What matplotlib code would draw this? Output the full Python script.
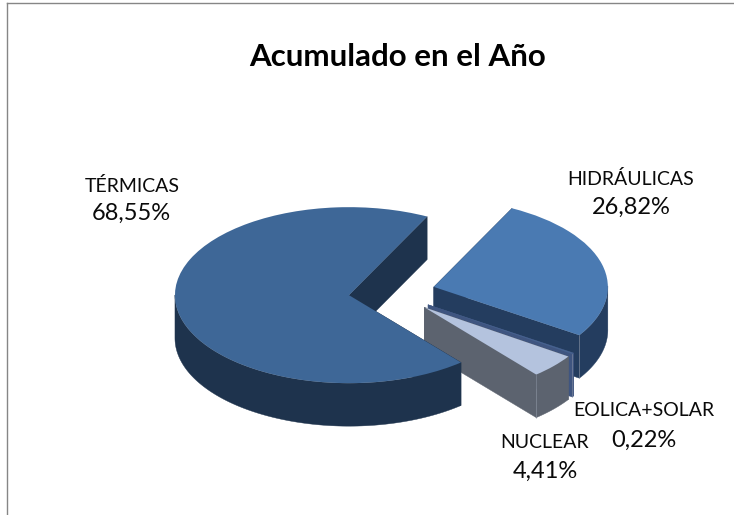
import numpy as np
import matplotlib
matplotlib.use("Agg")
import matplotlib.pyplot as plt
from matplotlib.lines import Line2D

categories = ["TÉRMICAS", "NUCLEAR", "EOLICA+SOLAR", "HIDRÁULICAS"]
values = [68.55, 4.41, 0.22, 26.82]
top_colors = ["#3E6797", "#B4C3DE", "#46628F", "#4A7AB2"]
side_colors = ["#1E334D", "#5C636F", "#3F5580", "#243D5F"]
draw_rank = [40, 30, 20, 10]
name_pos = [(132, 186), (545, 442), (644, 410), (631, 179)]
value_pos = [(131, 213), (545, 471), (644, 440), (631, 207)]

W, H = 734, 515
RX, RY = 174.0, 88.0
CX, CY = 392.0, 292.6
DEPTH = 43.0 / RY
START = 63.3
EXPLODE = 0.249

plt.rcParams["font.family"] = ["Lato", "DejaVu Sans"]
fig = plt.figure(figsize=(W / 100, H / 100), dpi=100, facecolor="white")
ax = fig.add_axes([0, 0, 1, 1])

wedges, _ = ax.pie(values, explode=[EXPLODE] * len(values), startangle=START,
                   colors=top_colors, radius=1.0, normalize=True,
                   wedgeprops=dict(linewidth=0))
ax.set_aspect("auto")
ax.set_xlim(-CX / RX, (W - CX) / RX)
ax.set_ylim((CY - H) / RY, CY / RY)
ax.axis("off")

for w, side, rank in zip(wedges, side_colors, draw_rank):
    w.set_zorder(rank + 2)
    cx, cy = w.center
    t = np.radians(np.linspace(w.theta1, w.theta2, 200))
    xs, ys = cx + np.cos(t), cy + np.sin(t)
    # outer rim, only the part facing the viewer
    front = np.sin(t) < 0.02
    if front.any():
        fx, fy = xs[front], ys[front]
        ax.fill(np.r_[fx, fx[::-1]], np.r_[fy, fy[::-1] - DEPTH],
                color=side, lw=0.3, zorder=rank)
    # the two cut faces
    for i in (0, -1):
        ax.fill([cx, xs[i], xs[i], cx], [cy, ys[i], ys[i] - DEPTH, cy - DEPTH],
                facecolor=side, edgecolor=side, lw=0.3, zorder=rank + 1)
    # thin lighter corner line where a front cut face meets the rim
    if np.sin(t[0]) < 0:
        ax.plot([xs[0], xs[0]], [ys[0], ys[0] - DEPTH], color="#8F98A8", lw=0.5,
                alpha=0.7, zorder=rank + 1.5)

for name, v, (nx, ny), (vx, vy) in zip(categories, values, name_pos, value_pos):
    ax.text(nx / W, 1 - ny / H, name, transform=ax.transAxes, ha="center",
            va="center", fontsize=14, color="#0A0A0A", zorder=60)
    ax.text(vx / W, 1 - vy / H, f"{v:.2f}%".replace(".", ","), transform=ax.transAxes,
            ha="center", va="center", fontsize=17, color="#0A0A0A", zorder=60)

ax.text(398 / W, 1 - 57 / H, "Acumulado en el Año", transform=ax.transAxes,
        ha="center", va="center", fontsize=22.5, fontweight="bold", color="black")

frame = "#868686"
fig.add_artist(Line2D([7 / W, 7 / W], [0, 1 - 2.5 / H], color=frame, lw=1))
fig.add_artist(Line2D([7 / W, 1], [1 - 2.5 / H, 1 - 2.5 / H], color=frame, lw=1))

fig.savefig("out.png", dpi=100)
